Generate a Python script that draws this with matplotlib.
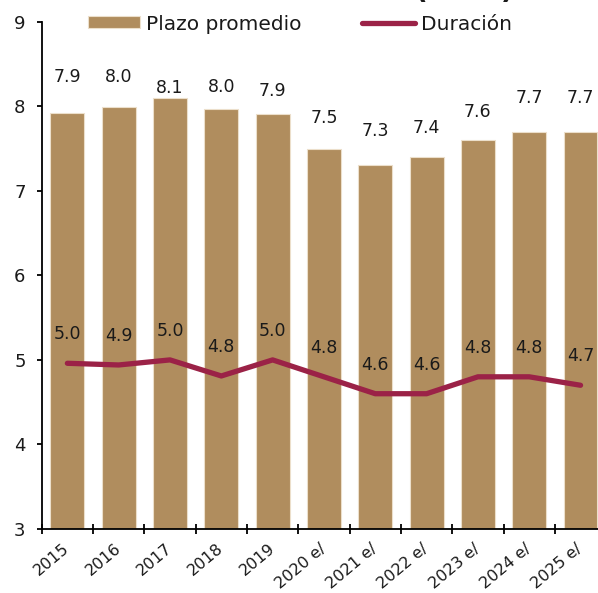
import matplotlib
matplotlib.use("Agg")
import matplotlib.pyplot as plt

# Data
years = ["2015", "2016", "2017", "2018", "2019", "2020 e/", "2021 e/",
         "2022 e/", "2023 e/", "2024 e/", "2025 e/"]
plazo = [7.92, 7.99, 8.10, 7.97, 7.91, 7.50, 7.30, 7.40, 7.60, 7.70, 7.70]
duracion = [4.96, 4.94, 5.00, 4.81, 5.00, 4.80, 4.60, 4.60, 4.80, 4.80, 4.70]

# label placement (pixels above the bar top), hand-placed as in the original
bar_label_dy = [36, 30, 10, 22, 23, 31, 34, 29, 28, 34, 34]

bar_color = "#B08D5E"
line_color = "#9B2247"
text_color = "#1a1a1a"

plt.rcParams['font.family'] = ['DejaVu Sans']

W, H = 598, 593
fig = plt.figure(figsize=(W / 100, H / 100), dpi=100)
left, bottom, top = 41.7, 529, 21.7
ax = fig.add_axes([left / W, 1 - bottom / H, 1 - left / W, (bottom - top) / H])

x = list(range(len(years)))
bars = ax.bar(x, plazo, width=0.66, color=bar_color, edgecolor="#ecdfcb",
              linewidth=0.8, label="Plazo promedio", zorder=2)
line, = ax.plot(x, duracion, color=line_color, linewidth=3.8,
                solid_capstyle="round", label="Duración", zorder=3)

for xi, v, dy in zip(x, plazo, bar_label_dy):
    ax.annotate(f"{v:.1f}", (xi, v), xytext=(0, dy), textcoords="offset pixels",
                ha="center", va="center", fontsize=12.5, color=text_color)
for xi, v in zip(x, duracion):
    ax.annotate(f"{v:.1f}", (xi, v), xytext=(0, 29), textcoords="offset pixels",
                ha="center", va="center", fontsize=12.5, color=text_color, zorder=4)

ax.set_xlim(-0.5, 10.34)
ax.set_ylim(3, 9)
ax.set_yticks(range(3, 10))

ax.set_xticks(x)
ax.set_xticklabels(years)
ax.set_xticks([i - 0.5 for i in x], minor=True)
ax.tick_params(axis="x", which="major", length=0, pad=12.5, labelsize=11.5,
               labelcolor=text_color)
ax.tick_params(axis="x", which="minor", direction="inout", length=7.5, width=1.3)
for lbl in ax.get_xticklabels():
    lbl.set_rotation(40)
    lbl.set_ha("right")
    lbl.set_va("center")
    lbl.set_rotation_mode("anchor")
ax.tick_params(axis="y", direction="out", length=3.6, width=1.3, pad=8,
               labelsize=13, labelcolor=text_color)

for s in ["top", "right"]:
    ax.spines[s].set_visible(False)
for s in ["left", "bottom"]:
    ax.spines[s].set_linewidth(1.3)
    ax.spines[s].set_color("black")

leg = fig.legend([bars, line], ["Plazo promedio", "Duración"],
                 loc="center left", bbox_to_anchor=(88 / W, 1 - 24 / H), ncol=2,
                 frameon=False, fontsize=14.5, handlelength=2.6, handleheight=0.55,
                 handletextpad=0.3, columnspacing=3.0, borderpad=0,
                 borderaxespad=0)
for t in leg.get_texts():
    t.set_color(text_color)

# title sits mostly above the visible area
fig.text(464 / W, 1.0 + 1 / H, "(años)", ha="center", va="baseline", fontsize=20,
         fontweight="bold", color=text_color)

fig.savefig("out.png", dpi=100)
